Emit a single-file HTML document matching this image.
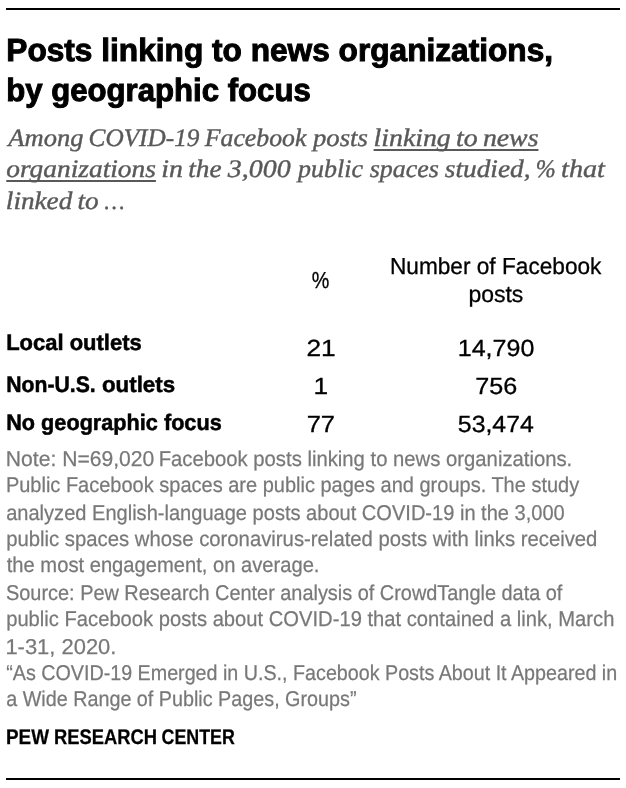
<!DOCTYPE html>
<html lang="en"><head><meta charset="utf-8"><title>Posts linking to news organizations, by geographic focus</title>
<style>
html,body{margin:0;padding:0;background:#fff;}
body{width:626px;height:788px;position:relative;overflow:hidden;}
.l{position:absolute;white-space:nowrap;line-height:1;text-rendering:geometricPrecision;transform-origin:0 0;margin:0;padding:0;}
.l u{text-decoration:underline;text-decoration-thickness:1.8px;text-underline-offset:2.9px;text-decoration-skip-ink:none;}
.rule{position:absolute;left:6px;width:614px;height:2px;background:#000;}
.t{font-family:"Liberation Sans", sans-serif;font-size:32px;font-weight:700;font-style:normal;color:#000;-webkit-text-stroke:1px #000;}
.s{font-family:"Liberation Serif", serif;font-size:25.2px;font-weight:400;font-style:italic;color:#595959;word-spacing:-1.5px;-webkit-text-stroke:0.4px #595959;}
.h{font-family:"Liberation Sans", sans-serif;font-size:23.2px;font-weight:400;font-style:normal;color:#000;-webkit-text-stroke:0.3px #000;}
.r{font-family:"Liberation Sans", sans-serif;font-size:22.4px;font-weight:700;font-style:normal;color:#000;-webkit-text-stroke:0.5px #000;}
.d{font-family:"Liberation Sans", sans-serif;font-size:23.3px;font-weight:400;font-style:normal;color:#000;-webkit-text-stroke:0.3px #000;}
.n{font-family:"Liberation Sans", sans-serif;font-size:21.4px;font-weight:400;font-style:normal;color:#787878;-webkit-text-stroke:0.25px #787878;}
.f{font-family:"Liberation Sans", sans-serif;font-size:21.1px;font-weight:700;font-style:normal;color:#000;-webkit-text-stroke:0.25px #000;}
</style></head>
<body>
<div class="rule" style="top:8px"></div>
<header class="title">
  <div class="l t" style="left:6px;top:34px;padding-left:0.29px;transform:scaleX(0.9889)">Posts linking to news organizations,</div>
  <div class="l t" style="left:6px;top:74px;padding-left:0.18px;transform:scaleX(0.9734)">by geographic focus</div>
</header>
<section class="subtitle">
  <div class="l s" style="left:8px;top:126px;padding-left:0.34px;transform:scaleX(1.0519)">Among</div>
  <div class="l s" style="left:88px;top:126px;padding-left:0.52px;transform:scaleX(1.0038)">COVID-19</div>
  <div class="l s" style="left:204px;top:126px;padding-left:0.84px;transform:scaleX(1.0218)">Facebook</div>
  <div class="l s" style="left:312px;top:126px;padding-left:0.93px;transform:scaleX(1.0587)">posts</div>
  <div class="l s" style="left:373px;top:126px;padding-left:0.55px;transform:scaleX(1.1025)"><u>linking to news</u></div>
  <div class="l s" style="left:6px;top:157px;padding-left:0.25px;transform:scaleX(1.0874)"><u>organizations</u></div>
  <div class="l s" style="left:161px;top:157px;padding-left:0.27px;transform:scaleX(1.1029)">in</div>
  <div class="l s" style="left:188px;top:157px;padding-left:0.23px;transform:scaleX(1.0815)">the</div>
  <div class="l s" style="left:227px;top:157px;padding-left:0.74px;transform:scaleX(1.1084)">3,000</div>
  <div class="l s" style="left:298px;top:157px;padding-left:0.08px;transform:scaleX(1.0300)">public</div>
  <div class="l s" style="left:369px;top:157px;padding-left:0.67px;transform:scaleX(1.0284)">spaces</div>
  <div class="l s" style="left:444px;top:157px;padding-left:0.78px;transform:scaleX(1.0835)">studied,</div>
  <div class="l s" style="left:535px;top:157px;padding-left:0.73px;transform:scaleX(0.9504)">%</div>
  <div class="l s" style="left:561px;top:157px;padding-left:0.06px;transform:scaleX(1.1188)">that</div>
  <div class="l s" style="left:5px;top:189px;padding-left:0.77px;transform:scaleX(1.0801)">linked to</div>
  <div class="l s" style="left:104px;top:189px;padding-left:0.59px;transform:scaleX(0.8912)">…</div>
</section>
<section class="table">
  <div class="l h" style="left:311px;top:269px;padding-left:0.98px;transform:scaleX(0.8522)">%</div>
  <div class="l h" style="left:389px;top:255px;padding-left:0.96px;transform:scaleX(0.9767)">Number of Facebook</div>
  <div class="l h" style="left:468px;top:283px;padding-left:0.42px;transform:scaleX(0.9913)">posts</div>
  <div class="l r" style="left:6px;top:332px;padding-left:0.15px;transform:scaleX(0.9821)">Local outlets</div>
  <div class="l r" style="left:6px;top:374px;padding-left:0.23px;transform:scaleX(0.9465)">Non-U.S.</div>
  <div class="l r" style="left:101px;top:374px;padding-left:0.99px;transform:scaleX(0.9958)">outlets</div>
  <div class="l r" style="left:6px;top:412px;padding-left:0.23px;transform:scaleX(0.9677)">No geographic focus</div>
  <div class="l d" style="left:306px;top:337px;padding-left:0.35px;transform:scaleX(1.1300)">21</div>
  <div class="l d" style="left:313px;top:375px;padding-left:0.48px;transform:scaleX(1.1300)">1</div>
  <div class="l d" style="left:306px;top:413px;padding-left:0.60px;transform:scaleX(1.0955)">77</div>
  <div class="l d" style="left:457px;top:337px;padding-left:0.70px;transform:scaleX(1.0747)">14,790</div>
  <div class="l d" style="left:475px;top:375px;padding-left:0.33px;transform:scaleX(1.0799)">756</div>
  <div class="l d" style="left:457px;top:413px;padding-left:0.81px;transform:scaleX(1.0653)">53,474</div>
</section>
<section class="notes">
  <div class="l n" style="left:5px;top:449px;padding-left:0.83px;transform:scaleX(0.9872)">Note: N=69,020</div>
  <div class="l n" style="left:158px;top:449px;padding-left:0.69px;transform:scaleX(0.9478)">Facebook posts linking to news organizations.</div>
  <div class="l n" style="left:5px;top:475px;padding-left:0.94px;transform:scaleX(0.9350)">Public Facebook spaces are public pages and groups. The study</div>
  <div class="l n" style="left:6px;top:503px;padding-left:0.18px;transform:scaleX(0.9376)">analyzed English-language posts about COVID-19 in the 3,000</div>
  <div class="l n" style="left:6px;top:529px;padding-left:0.20px;transform:scaleX(0.9490)">public spaces whose coronavirus-related posts with links received</div>
  <div class="l n" style="left:6px;top:555px;padding-left:0.79px;transform:scaleX(0.9426)">the most engagement, on average.</div>
  <div class="l n" style="left:6px;top:583px;padding-left:0.04px;transform:scaleX(0.9302)">Source: Pew Research Center analysis of CrowdTangle data of</div>
  <div class="l n" style="left:6px;top:609px;padding-left:0.16px;transform:scaleX(0.9438)">public Facebook posts about COVID-19 that contained a link, March</div>
  <div class="l n" style="left:5px;top:637px;padding-left:0.38px;transform:scaleX(1.0256)">1-31, 2020.</div>
  <div class="l n" style="left:6px;top:663px;padding-left:0.26px;transform:scaleX(0.9209)">“As COVID-19 Emerged in U.S., Facebook Posts About It Appeared in</div>
  <div class="l n" style="left:6px;top:689px;padding-left:0.19px;transform:scaleX(0.9236)">a Wide Range of Public Pages, Groups”</div>
</section>
<footer class="source">
  <div class="l f" style="left:5px;top:727px;padding-left:1.04px;transform:scaleX(0.8958)">PEW</div>
  <div class="l f" style="left:53px;top:727px;padding-left:1.04px;transform:scaleX(0.8709)">RESEARCH</div>
  <div class="l f" style="left:161px;top:727px;padding-left:0.64px;transform:scaleX(0.8449)">CENTER</div>
</footer>
<div class="rule" style="top:778px"></div>
</body></html>
